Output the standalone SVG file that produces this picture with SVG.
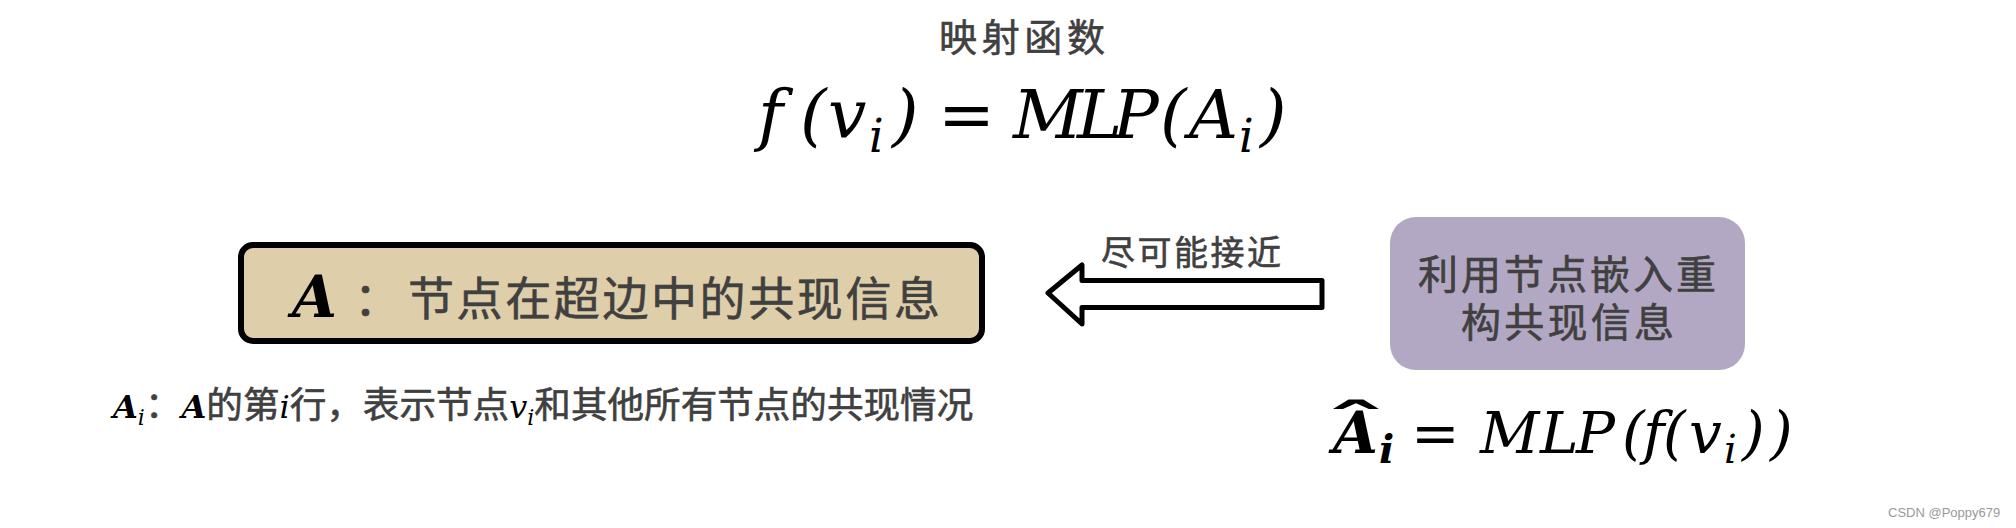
<svg xmlns="http://www.w3.org/2000/svg" width="2016" height="528" viewBox="0 0 2016 528">
<style>
.cjk{font-family:"Noto Sans CJK SC","Noto Sans",sans-serif;fill:#404040;stroke:#404040;stroke-width:0.6}
.m{font-family:"DejaVu Serif",serif;font-style:italic;fill:#000}
.mb{font-family:"DejaVu Serif",serif;font-style:italic;font-weight:bold;fill:#000}
.eq{font-style:normal}
</style>
<rect width="2016" height="528" fill="#fff"/>
<g id="mapping-title">
<text class="cjk" x="939" y="51" font-size="38" textLength="166" lengthAdjust="spacing">映射函数</text>
<text class="m" font-size="68" y="138"><tspan x="758">f</tspan><tspan x="800">(</tspan><tspan x="828">v</tspan><tspan x="869" dy="14" font-size="46">i</tspan><tspan x="892" dy="-14">)</tspan><tspan x="938" class="eq">=</tspan><tspan x="1013">M</tspan><tspan x="1077">L</tspan><tspan x="1113">P</tspan><tspan x="1160">(</tspan><tspan x="1189">A</tspan><tspan x="1239" dy="14" font-size="46">i</tspan><tspan x="1260" dy="-14">)</tspan></text>
</g>
<g id="node-A">
<rect x="241" y="245" width="741" height="96" rx="12" fill="#DFCEAA" stroke="#000" stroke-width="6"/>
<text class="mb" x="292" y="317" font-size="58">A</text>
<text class="cjk" x="354" y="315" font-size="46">：</text>
<text class="cjk" x="408" y="315" font-size="46" textLength="532" lengthAdjust="spacing">节点在超边中的共现信息</text>
</g>
<g id="note-Ai">
<text y="418" font-size="36.6"><tspan class="mb" x="113" font-size="32">A</tspan><tspan class="m" font-size="22" dy="7">i</tspan><tspan class="cjk" dy="-7">：</tspan><tspan class="mb" font-size="32">A</tspan><tspan class="cjk">的第</tspan><tspan class="m" font-size="32">i</tspan><tspan class="cjk">行，表示节点</tspan><tspan class="m" font-size="32">v</tspan><tspan class="m" font-size="22" dy="7">i</tspan><tspan class="cjk" dy="-7">和其他所有节点的共现情况</tspan></text>
</g>
<g id="node-reconstruct">
<rect x="1390" y="217" width="355" height="153" rx="26" fill="#B3A8C3"/>
<text class="cjk" x="1418" y="289" font-size="40" textLength="298" lengthAdjust="spacing">利用节点嵌入重</text>
<text class="cjk" x="1461" y="337" font-size="40" textLength="213" lengthAdjust="spacing">构共现信息</text>
</g>
<g id="formula-Ahat">
<text class="mb" x="1333" y="453" font-size="58">A</text>
<text x="1343" y="441" font-size="52" font-family="DejaVu Serif,serif" font-weight="bold" transform="translate(1356 0) scale(2.4 1) translate(-1356 0)">ˆ</text>
<text class="m" font-size="58" y="453"><tspan class="mb" x="1379" dy="10" font-size="40">i</tspan><tspan x="1411" dy="-10" class="eq">=</tspan><tspan x="1480">M</tspan><tspan x="1540">L</tspan><tspan x="1576">P</tspan><tspan x="1622">(</tspan><tspan x="1643">f</tspan><tspan x="1663">(</tspan><tspan x="1689">v</tspan><tspan x="1724" dy="10" font-size="40">i</tspan><tspan x="1742" dy="-10">)</tspan><tspan x="1770">)</tspan></text>
</g>
<g id="connectors">
<polygon points="1048,293 1082,265 1082,280.5 1322,280.5 1322,307.5 1082,307.5 1082,324" fill="#fff" stroke="#000" stroke-width="5" stroke-linejoin="round"/>
<text class="cjk" x="1101" y="265" font-size="34" textLength="180" lengthAdjust="spacing">尽可能接近</text>
</g>
<text x="1888" y="517" font-family="Liberation Sans,sans-serif" font-size="13" fill="#999">CSDN @Poppy679</text>
</svg>
